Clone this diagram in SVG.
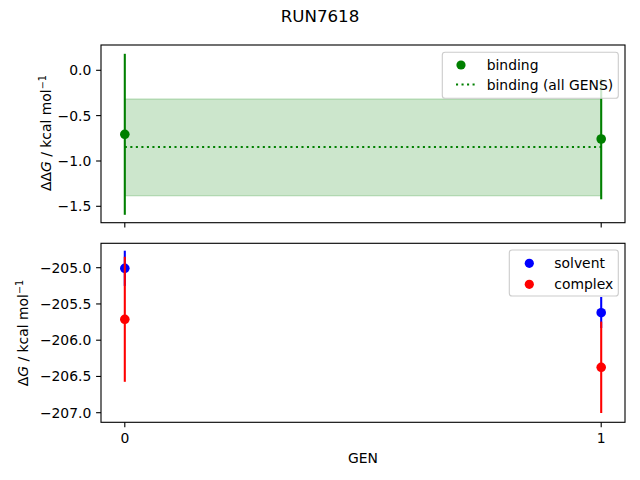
<svg xmlns="http://www.w3.org/2000/svg" width="640" height="480" viewBox="0 0 640 480">
<style>
text{font-family:"DejaVu Sans","Liberation Sans",sans-serif;font-size:13.9px;fill:#000}
.ytl{text-anchor:end}
.xtl{text-anchor:middle}
.spine{fill:none;stroke:#000;stroke-width:1.11}
.tick{stroke:#000;stroke-width:1.11}
.eg{stroke:#008000;stroke-width:2.08}
.eb{stroke:#0000ff;stroke-width:2.08}
.er{stroke:#ff0000;stroke-width:2.08}
.leg{fill:#fff;fill-opacity:0.8;stroke:#cccccc;stroke-width:1.11}
</style>
<rect width="640" height="480" fill="#fff"/>
<text x="320" y="22" text-anchor="middle" style="font-size:16.67px">RUN7618</text>

<g id="top-axes">
  <rect x="124.8" y="99" width="476.4" height="96.7" fill="#008000" fill-opacity="0.2" stroke="#008000" stroke-opacity="0.2" stroke-width="1.39"/>
  <line x1="124.8" y1="147" x2="601.2" y2="147" stroke="#008000" stroke-width="2.08" stroke-dasharray="2.08,3.44"/>
  <g id="binding-points">
    <line class="eg" x1="124.8" y1="53.8" x2="124.8" y2="214.8"/>
    <line class="eg" x1="601.2" y1="79" x2="601.2" y2="199.3"/>
    <circle cx="124.8" cy="134.3" r="4.8" fill="#008000"/>
    <circle cx="601.2" cy="139" r="4.8" fill="#008000"/>
  </g>
  <rect class="spine" x="101" y="45" width="524" height="177.7"/>
  <g id="top-yticks">
    <line class="tick" x1="96.1" y1="70.3" x2="101" y2="70.3"/>
    <line class="tick" x1="96.1" y1="115.6" x2="101" y2="115.6"/>
    <line class="tick" x1="96.1" y1="161" x2="101" y2="161"/>
    <line class="tick" x1="96.1" y1="206.3" x2="101" y2="206.3"/>
    <text class="ytl" x="91.3" y="75.3">0.0</text>
    <text class="ytl" x="91.3" y="120.6">−0.5</text>
    <text class="ytl" x="91.3" y="166">−1.0</text>
    <text class="ytl" x="91.3" y="211.3">−1.5</text>
  </g>
  <line class="tick" x1="124.8" y1="222.7" x2="124.8" y2="227.6"/>
  <line class="tick" x1="601.2" y1="222.7" x2="601.2" y2="227.6"/>
  <text transform="translate(51,133) rotate(-90)" text-anchor="middle">ΔΔ<tspan font-style="italic">G</tspan> / kcal mol<tspan dy="-5.5" style="font-size:9.7px">−1</tspan></text>
  <g id="top-legend">
    <rect class="leg" x="442.3" y="52.3" width="176" height="46" rx="2.8"/>
    <circle cx="461" cy="65" r="4.6" fill="#008000"/>
    <text x="486.7" y="69.5">binding</text>
    <line x1="456" y1="84.5" x2="477" y2="84.5" stroke="#008000" stroke-width="2.08" stroke-dasharray="2.08,3.44"/>
    <text x="486.7" y="89.5">binding (all GENS)</text>
  </g>
</g>

<g id="bottom-axes">
  <g id="solvent-points">
    <line class="eb" x1="124.8" y1="250.7" x2="124.8" y2="285.9"/>
    <line class="eb" x1="601.2" y1="297" x2="601.2" y2="328"/>
    <circle cx="124.8" cy="268.3" r="4.8" fill="#0000ff"/>
    <circle cx="601.2" cy="312.7" r="4.8" fill="#0000ff"/>
  </g>
  <g id="complex-points">
    <line class="er" x1="124.8" y1="256.8" x2="124.8" y2="381.8"/>
    <line class="er" x1="601.2" y1="321.6" x2="601.2" y2="413"/>
    <circle cx="124.8" cy="319.3" r="4.8" fill="#ff0000"/>
    <circle cx="601.2" cy="367.3" r="4.8" fill="#ff0000"/>
  </g>
  <rect class="spine" x="101" y="243.3" width="524" height="179"/>
  <g id="bottom-yticks">
    <line class="tick" x1="96.1" y1="267.7" x2="101" y2="267.7"/>
    <line class="tick" x1="96.1" y1="303.95" x2="101" y2="303.95"/>
    <line class="tick" x1="96.1" y1="340.2" x2="101" y2="340.2"/>
    <line class="tick" x1="96.1" y1="376.45" x2="101" y2="376.45"/>
    <line class="tick" x1="96.1" y1="412.7" x2="101" y2="412.7"/>
    <text class="ytl" x="91.3" y="272.7">−205.0</text>
    <text class="ytl" x="91.3" y="308.95">−205.5</text>
    <text class="ytl" x="91.3" y="345.2">−206.0</text>
    <text class="ytl" x="91.3" y="381.45">−206.5</text>
    <text class="ytl" x="91.3" y="417.7">−207.0</text>
  </g>
  <g id="bottom-xticks">
    <line class="tick" x1="124.8" y1="422.3" x2="124.8" y2="427.2"/>
    <line class="tick" x1="601.2" y1="422.3" x2="601.2" y2="427.2"/>
    <text class="xtl" x="124.8" y="442.5">0</text>
    <text class="xtl" x="601.2" y="442.5">1</text>
  </g>
  <text x="363" y="462.5" text-anchor="middle">GEN</text>
  <text transform="translate(28,333) rotate(-90)" text-anchor="middle">Δ<tspan font-style="italic">G</tspan> / kcal mol<tspan dy="-5.5" style="font-size:9.7px">−1</tspan></text>
  <g id="bottom-legend">
    <rect class="leg" x="509.3" y="250" width="109" height="46" rx="2.8"/>
    <circle cx="529.3" cy="263.3" r="4.6" fill="#0000ff"/>
    <text x="554.3" y="268.3">solvent</text>
    <circle cx="529.3" cy="284.3" r="4.6" fill="#ff0000"/>
    <text x="554.3" y="289.3">complex</text>
  </g>
</g>
</svg>
